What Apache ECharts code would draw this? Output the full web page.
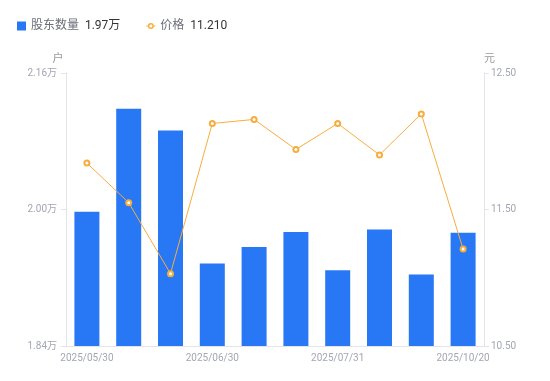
<!DOCTYPE html>
<html>
<head>
<meta charset="utf-8">
<script src="https://cdn.jsdelivr.net/npm/echarts@6/dist/echarts.min.js"></script>
<style>
  html, body { margin: 0; padding: 0; background: #fff; }
  #chart { width: 550px; height: 381px; }
</style>
</head>
<body>
<div id="chart"></div>
<script>
// 报告期
const dates = [
  "2025/05/30", "2025/06/10", "2025/06/20", "2025/06/30", "2025/07/10",
  "2025/07/20", "2025/07/31", "2025/08/29", "2025/09/30", "2025/10/20"
];
// 股东数量 (户)
const holders = [19974, 21181, 20926, 19368, 19559, 19736, 19289, 19767, 19239, 19727];
// 价格 (元)
const prices = [11.84, 11.55, 11.03, 12.13, 12.16, 11.94, 12.13, 11.90, 12.20, 11.21];

const BAR_COLOR = "#2878f5";
const LINE_COLOR = "#f7ad3c";
const LABEL_COLOR = "#a3a6b4";
const AXIS_COLOR = "#e3e4e8";

// 图例里的折线图标: 两段短线 + 空心圆
const LINE_ICON =
  "path://M0,2.6h1.8v0.8h-1.8z M7.2,2.6h1.8v0.8h-1.8z " +
  "M4.5,0 A3,3 0 1 1 4.499,0 Z M4.5,1.5 A1.5,1.5 0 1 0 4.501,1.5 Z";

const chart = echarts.init(document.getElementById("chart"));

function fmtWan(v) {
  return (v / 10000).toFixed(2) + "万";
}

const lastHolder = holders[holders.length - 1];
const lastPrice = prices[prices.length - 1];

const option = {
  animation: false,
  textStyle: { fontFamily: "Roboto, 'Noto Sans CJK SC', sans-serif" },
  legend: {
    left: 17,
    top: 20,
    padding: 0,
    itemWidth: 9,
    itemHeight: 9,
    itemGap: 26,
    data: [
      { name: "股东数量", icon: "rect" },
      { name: "价格", icon: LINE_ICON, itemStyle: { color: LINE_COLOR, borderWidth: 0 } }
    ],
    formatter: function (name) {
      if (name === "股东数量") {
        return "{a|" + name + "}  {b|" + (lastHolder / 10000).toFixed(2) + "万}";
      }
      return "{a|" + name + "}  {b|" + lastPrice.toFixed(3) + "}";
    },
    textStyle: {
      rich: {
        a: { color: "#6b6e78", fontSize: 12 },
        b: { color: "#333", fontSize: 12 }
      }
    }
  },
  grid: {
    left: 66,
    right: 66,
    top: 73,
    bottom: 35
  },
  xAxis: {
    type: "category",
    data: dates,
    axisLine: { show: true, lineStyle: { color: AXIS_COLOR } },
    axisTick: { show: false },
    axisLabel: {
      interval: 2,
      color: LABEL_COLOR,
      fontSize: 10,
      margin: 7
    }
  },
  yAxis: [
    {
      type: "value",
      name: "户",
      nameGap: 8,
      nameTextStyle: { color: "#999", fontSize: 11, padding: [0, 16, 0, 0] },
      min: 18400,
      max: 21600,
      interval: 1600,
      axisLine: { show: true, lineStyle: { color: AXIS_COLOR } },
      axisTick: { show: true, length: 5, lineStyle: { color: AXIS_COLOR } },
      splitLine: { show: false },
      axisLabel: {
        color: LABEL_COLOR,
        fontSize: 10,
        margin: 9,
        formatter: fmtWan
      }
    },
    {
      type: "value",
      name: "元",
      nameGap: 8,
      nameTextStyle: { color: "#999", fontSize: 11, padding: [0, 0, 0, 11] },
      min: 10.5,
      max: 12.5,
      interval: 1,
      axisLine: { show: true, lineStyle: { color: AXIS_COLOR } },
      axisTick: { show: true, length: 5, lineStyle: { color: AXIS_COLOR } },
      splitLine: { show: false },
      axisLabel: {
        color: LABEL_COLOR,
        fontSize: 10,
        margin: 7,
        formatter: function (v) { return v.toFixed(2); }
      }
    }
  ],
  series: [
    {
      name: "股东数量",
      type: "bar",
      yAxisIndex: 0,
      data: holders,
      barWidth: 25,
      itemStyle: { color: BAR_COLOR }
    },
    {
      name: "价格",
      type: "line",
      yAxisIndex: 1,
      data: prices,
      symbol: "emptyCircle",
      symbolSize: 5,
      lineStyle: { color: LINE_COLOR, width: 1 },
      itemStyle: { color: LINE_COLOR, borderWidth: 2 }
    }
  ]
};

chart.setOption(option);
window.addEventListener("resize", () => chart.resize());
</script>
</body>
</html>
